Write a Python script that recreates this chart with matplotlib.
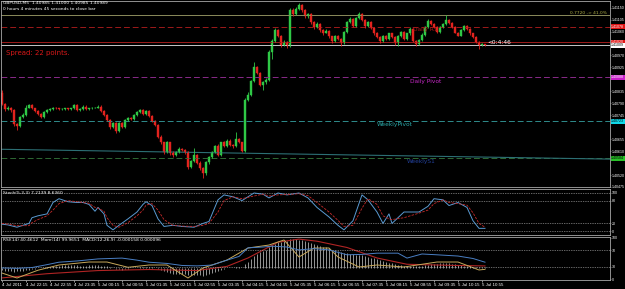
import numpy as np
import matplotlib
matplotlib.use("Agg")
import matplotlib.pyplot as plt

# GBPUSD M5 candles, points above 1.40000 (1 point = 0.00001)
opens = [829, 789, 767, 774, 763, 712, 705, 738, 745, 774,
         782, 771, 760, 749, 738, 756, 763, 767, 774, 771,
         767, 767, 771, 767, 771, 782, 763, 767, 778, 767,
         771, 774, 774, 778, 760, 745, 727, 701, 716, 687,
         716, 701, 727, 734, 731, 745, 756, 763, 749, 760,
         742, 723, 709, 665, 643, 606, 643, 602, 595, 606,
         617, 613, 606, 551, 573, 595, 566, 548, 526, 569,
         588, 606, 628, 595, 643, 628, 650, 632, 628, 654,
         643, 610, 804, 822, 873, 928, 903, 859, 870, 877,
         983, 1023, 1067, 1045, 1009, 1020, 1005, 1140, 1126, 1144,
         1159, 1140, 1118, 1126, 1096, 1078, 1089, 1067, 1056, 1064,
         1042, 1023, 1045, 1031, 1016, 1060, 1096, 1107, 1082, 1111,
         1126, 1104, 1082, 1096, 1075, 1056, 1038, 1023, 1045, 1031,
         1053, 1038, 1016, 1045, 1060, 1031, 1053, 1071, 1023, 1012,
         1027, 1049, 1078, 1100, 1089, 1078, 1060, 1078, 1089, 1104,
         1093, 1078, 1056, 1045, 1067, 1082, 1071, 1053, 1038, 1020,
         1009, 1012]
highs = [840, 793, 780, 778, 767, 716, 742, 752, 782, 789,
         786, 774, 763, 752, 760, 767, 771, 778, 778, 774,
         771, 774, 774, 774, 786, 786, 771, 782, 782, 774,
         778, 778, 782, 782, 763, 749, 731, 720, 720, 720,
         720, 731, 738, 738, 749, 760, 767, 767, 763, 763,
         745, 727, 712, 669, 646, 650, 646, 610, 610, 624,
         621, 617, 610, 577, 621, 599, 573, 551, 573, 591,
         610, 632, 635, 646, 650, 654, 654, 635, 683, 658,
         646, 811, 833, 877, 946, 932, 906, 873, 884, 990,
         1031, 1075, 1071, 1049, 1027, 1023, 1148, 1148, 1151, 1166,
         1162, 1144, 1130, 1130, 1100, 1096, 1093, 1071, 1071, 1067,
         1045, 1049, 1049, 1034, 1064, 1100, 1115, 1111, 1115, 1133,
         1130, 1107, 1100, 1100, 1078, 1060, 1042, 1049, 1049, 1056,
         1056, 1042, 1049, 1064, 1064, 1056, 1078, 1075, 1027, 1031,
         1053, 1082, 1107, 1104, 1093, 1082, 1082, 1093, 1122, 1107,
         1096, 1082, 1060, 1071, 1086, 1086, 1075, 1056, 1042, 1023,
         1016, 1012]
lows = [782, 760, 763, 756, 705, 690, 701, 734, 742, 771,
        767, 756, 745, 734, 734, 752, 760, 763, 767, 763,
        763, 763, 763, 763, 767, 760, 760, 763, 763, 763,
        767, 771, 771, 756, 742, 723, 694, 698, 680, 683,
        698, 698, 723, 727, 727, 742, 752, 745, 745, 738,
        720, 705, 658, 636, 599, 602, 595, 588, 591, 602,
        610, 599, 544, 548, 569, 562, 540, 507, 522, 562,
        584, 602, 591, 591, 624, 624, 628, 621, 624, 639,
        606, 606, 800, 818, 870, 899, 855, 840, 862, 873,
        957, 1020, 1038, 1001, 1005, 998, 1001, 1118, 1122, 1140,
        1133, 1111, 1111, 1089, 1071, 1075, 1060, 1049, 1053, 1034,
        1016, 1020, 1027, 1005, 1012, 1056, 1093, 1078, 1078, 1107,
        1100, 1075, 1078, 1071, 1049, 1034, 1016, 1020, 1027, 1027,
        1034, 1009, 1005, 1038, 1027, 1027, 1049, 1020, 1005, 1009,
        1023, 1045, 1075, 1086, 1075, 1056, 1056, 1075, 1086, 1089,
        1075, 1053, 1042, 1042, 1064, 1067, 1049, 1034, 1016, 994,
        1005, 1005]
closes = [789, 767, 774, 763, 712, 705, 738, 745, 774, 782,
          771, 760, 749, 738, 756, 763, 767, 774, 771, 767,
          767, 771, 767, 771, 782, 763, 767, 778, 767, 771,
          774, 774, 778, 760, 745, 727, 701, 716, 687, 716,
          701, 727, 734, 731, 745, 756, 763, 749, 760, 742,
          723, 709, 665, 643, 606, 643, 602, 595, 606, 617,
          613, 606, 551, 573, 595, 566, 548, 526, 569, 588,
          606, 628, 595, 643, 628, 650, 632, 628, 654, 643,
          610, 804, 822, 873, 928, 903, 859, 870, 877, 983,
          1023, 1067, 1045, 1009, 1020, 1005, 1140, 1126, 1144, 1159,
          1140, 1118, 1126, 1096, 1078, 1089, 1067, 1056, 1064, 1042,
          1023, 1045, 1031, 1016, 1060, 1096, 1107, 1082, 1111, 1126,
          1104, 1082, 1096, 1075, 1056, 1038, 1023, 1045, 1031, 1053,
          1038, 1016, 1045, 1060, 1031, 1053, 1071, 1023, 1012, 1027,
          1049, 1078, 1100, 1089, 1078, 1060, 1078, 1089, 1104, 1093,
          1078, 1056, 1045, 1067, 1082, 1071, 1053, 1038, 1020, 1009,
          1012, 1009]

# horizontal levels
fibo_level = 1.41122
daily_r1 = 1.41078
daily_high = 1.41020
bid = 1.41009
daily_pivot = 1.40888
weekly_pivot = 1.40723
weekly_s1 = 1.40584
trend_start, trend_end = 1.40617, 1.40580

price_ticks = [1.41150, 1.41105, 1.41060, 1.40970, 1.40925, 1.40835,
               1.40790, 1.40745, 1.40655, 1.40610, 1.40520, 1.40475]

# stochastic (5,3,3)
stoch_bars = [0, 2, 5, 9, 10, 12, 15, 17, 19, 22, 25, 27, 29, 31, 32, 34, 35, 37,
              39, 42, 45, 47, 48, 50, 52, 54, 57, 60, 64, 67, 69, 72, 74, 77, 80,
              84, 87, 89, 92, 95, 99, 102, 105, 109, 112, 114, 117, 120, 122, 125,
              127, 129, 130, 134, 139, 142, 144, 147, 149, 152, 155, 157, 159, 161]
stoch_main = [18, 16, 10, 20, 35, 40, 45, 75, 85, 77, 75, 75, 70, 52, 62, 45, 15, 3,
              15, 32, 50, 70, 77, 67, 32, 12, 15, 12, 10, 20, 25, 82, 95, 90, 80,
              100, 97, 87, 100, 95, 100, 87, 62, 37, 15, 3, 27, 95, 82, 50,
              20, 45, 20, 50, 50, 65, 85, 82, 67, 75, 62, 27, 7, 7]
stoch_signal = [20, 18, 14, 14, 22, 30, 40, 55, 72, 80, 77, 75, 73, 62, 60, 52, 35, 15,
                10, 22, 40, 55, 68, 72, 55, 30, 15, 13, 12, 15, 20, 50, 80, 90, 85,
                92, 97, 92, 95, 96, 98, 93, 75, 50, 28, 12, 15, 60, 85, 70,
                40, 32, 30, 35, 47, 55, 72, 82, 75, 72, 68, 48, 20, 10]

# RSI(14)
rsi_bars = [0, 5, 10, 15, 19, 25, 32, 36, 40, 45, 49, 55, 60, 65, 70, 75, 79, 82,
            87, 90, 95, 99, 104, 109, 115, 120, 125, 132, 135, 140, 145, 152, 157, 161]
rsi_vals = [27, 26, 28, 35, 41, 44, 49, 50, 51, 46, 41, 38, 33, 32, 34, 46, 55, 76,
            78, 80, 78, 71, 74, 71, 59, 60, 63, 63, 51, 61, 59, 56, 50, 41]

# Momentum(14)
mom_bars = [0, 5, 12, 19, 29, 35, 42, 49, 55, 62, 67, 75, 82, 89, 94, 99, 104,
            109, 112, 119, 125, 134, 145, 152, 159, 161]
mom_vals = [99.902, 99.817, 99.95, 100.039, 100.09, 100.09, 100.0, 100.039, 100.039,
            99.817, 99.988, 100.124, 100.329, 100.38, 100.466, 100.176, 100.329,
            100.329, 100.176, 100.005, 100.039, 100.005, 100.09, 100.09, 99.954, 99.965]

# MACD(12,26,9) histogram per bar and signal line, in 0.00001
macd_hist = [-8, -10, -12, -14, -15, -14, -12, -10, -8, -6, -4, -2, 0,
             2, 4, 6, 8, 10, 12, 14, 15, 16, 16, 16, 15, 15, 14, 14, 14, 15, 15, 16, 16, 14,
             12, 10, 6, 2, -2, -4, -5, -4, -2, 0, 2, 4, 6, 7, 8, 7, 5, 2,
             -2, -8, -14, -18, -22, -25, -27, -28, -28, -28, -30, -32, -32, -32, -33, -35, -32,
             -28, -24, -18, -12, -6, -2, 0, 2, 3, 5, 6, 4,
             20, 32, 45, 60, 70, 78, 84, 90, 100, 110, 118, 125, 128, 130, 132,
             140, 142, 140, 138, 135, 130, 125, 120, 115, 112, 108, 104, 100, 96, 90,
             86, 82, 78, 75, 72, 70, 68, 66, 64, 62, 60, 56, 52, 48, 44, 40, 36, 32, 28, 24, 20,
             18, 16, 14, 12, 12, 12, 12, 12, 13, 15, 18, 20, 22, 23, 24, 25, 25, 24, 22, 20,
             18, 16, 14, 12, 10, 9, 8, 7, 6, 5]
macd_sig_bars = [0, 15, 32, 49, 65, 75, 82, 92, 99, 105, 115, 125, 135, 149, 161]
macd_sig_vals = [-45, -25, -10, -5, -10, 10, 50, 125, 140, 130, 100, 50, 20, 15, 12]

time_bars = [0, 8, 16, 24, 32, 40, 48, 56, 64, 72, 80, 88, 96, 104, 112, 120, 128,
             136, 144, 152, 160]
time_labels = ["4 Jul 2011", "4 Jul 22:15", "4 Jul 22:55", "4 Jul 23:35", "5 Jul 00:15",
               "5 Jul 00:55", "5 Jul 01:35", "5 Jul 02:15", "5 Jul 02:55", "5 Jul 03:35",
               "5 Jul 04:15", "5 Jul 04:55", "5 Jul 05:35", "5 Jul 06:15", "5 Jul 06:55",
               "5 Jul 07:35", "5 Jul 08:15", "5 Jul 08:55", "5 Jul 09:35", "5 Jul 10:15",
               "5 Jul 10:55"]

GREEN = "#2fc846"
RED = "#e3231e"
FRAME = "#a8a8a8"
SMALL = 3.2
AXFONT = "Liberation Sans"
AXSIZE = 2.6

W, H = 625, 289
fig = plt.figure(figsize=(W / 100, H / 100), dpi=100, facecolor="black")
left, width = 1 / W, 609 / W
ax = fig.add_axes([left, 1 - 187 / H, width, 186.5 / H])
ax_st = fig.add_axes([left, 1 - 235 / H, width, 46 / H], sharex=ax)
ax_rsi = fig.add_axes([left, 1 - 280 / H, width, 43 / H], sharex=ax)

# extra scales for MACD and Momentum in the lower window
ax_macd = ax_rsi.twinx()
ax_macd.set_ylim(-0.00055, 0.0015)
ax_mom = ax_rsi.twinx()
ax_mom.set_ylim(99.783, 100.517)
for a in (ax_macd, ax_mom):
    a.axis("off")

for a in (ax, ax_st, ax_rsi):
    a.set_facecolor("black")
    for s in a.spines.values():
        s.set_color(FRAME)
        s.set_linewidth(0.6)
    a.yaxis.tick_right()
    a.tick_params(axis="y", colors=FRAME, labelcolor="white", labelsize=AXSIZE,
                  length=1, width=0.4, pad=0.6)
    a.tick_params(axis="x", bottom=False, labelbottom=False)

x = np.arange(len(closes))
o = 1.4 + np.array(opens) / 1e5
h = 1.4 + np.array(highs) / 1e5
l = 1.4 + np.array(lows) / 1e5
c = 1.4 + np.array(closes) / 1e5
cols = np.where(c >= o, GREEN, RED)

xmin, xmax = -0.33, -0.33 + 609 / 3
ax.set_xlim(xmin, xmax)
ax.set_ylim(1.40493, 1.41177)

# levels
ax.axhline(fibo_level, color="#8c8c5c", lw=0.7)
ax.axhline(daily_r1, color="#9e1a1a", lw=0.7, ls=(0, (6, 3)))
ax.axhline(daily_high, color="#9e1a1a", lw=0.7)
ax.axhline(bid, color="#c8c8c8", lw=0.7)
ax.axhline(daily_pivot, color="#8a2a8a", lw=0.7, ls=(0, (6, 3)))
ax.axhline(weekly_pivot, color="#2f8c8c", lw=0.7, ls=(0, (6, 3)))
ax.axhline(weekly_s1, color="#2e6a34", lw=0.7, ls=(0, (6, 3)))
ax.plot([xmin, xmax], [trend_start, trend_end], color="#2c6f74", lw=0.8)

# candles
ax.vlines(x, l, h, colors=cols, lw=0.6)
ax.bar(x, c - o, bottom=o, width=0.62, color=cols, edgecolor=cols, lw=0.3)

ax.set_yticks(price_ticks)
ax.set_yticklabels([f"{p:.5f}" for p in price_ticks])

yt = ax.get_yaxis_transform()
for lvl, fc, tc in [(daily_r1, "#e01414", "white"), (daily_high, "#e01414", "white"),
                    (bid, "white", "black"), (daily_pivot, "#c81ec8", "white"),
                    (weekly_pivot, "#10d8e8", "black"), (weekly_s1, "#28c028", "black")]:
    ax.text(1.002, lvl, f"{lvl:.5f}", transform=yt, fontsize=AXSIZE, family=AXFONT,
            color=tc, va="center", ha="left", clip_on=False,
            bbox=dict(boxstyle="square,pad=0.15", fc=fc, ec="none"))

ax.annotate("0.7720 -> 41.0%", (xmax, fibo_level), xytext=(-2, 0.3),
            textcoords="offset points", ha="right", va="bottom",
            fontsize=SMALL, color="#b0b048")
ax.annotate("Daily R1", (137, daily_r1), xytext=(0, -0.5), textcoords="offset points",
            ha="left", va="top", fontsize=4.2, color="#a81818")
ax.annotate("Daily Pivot", (136, daily_pivot), xytext=(0, -1), textcoords="offset points",
            ha="left", va="top", fontsize=4.2, color="#c828c8")
ax.annotate("WeeklyPivot", (125, weekly_pivot), xytext=(0, -0.5), textcoords="offset points",
            ha="left", va="top", fontsize=4.2, color="#2aa8a8")
ax.annotate("WeeklyS1", (135, weekly_s1), xytext=(0, -0.5), textcoords="offset points",
            ha="left", va="top", fontsize=4.2, color="#23409a")
ax.annotate("<0:4:46", (x[-1], bid), xytext=(1.5, 0.3), textcoords="offset points",
            ha="left", va="bottom", fontsize=4.2, color="white")

ax.text(0.004, 0.995, "GBPUSD,M5  1.40985 1.41000 1.40985 1.40989",
        transform=ax.transAxes, fontsize=SMALL, color="white", va="top")
ax.text(0.004, 0.965, "0 hours 4 minutes 45 seconds to close bar",
        transform=ax.transAxes, fontsize=SMALL, color="white", va="top")
ax.text(0.008, 1 - 53 / 187, "Spread: 22 points.", transform=ax.transAxes,
        fontsize=5, color="#d81818", va="center")

# stochastic panel
ax_st.set_ylim(-10.5, 110.5)
for lvl in (100, 80, 20, 0):
    ax_st.axhline(lvl, color="#c8c8c8", lw=0.5, ls=(0, (1, 1.5)))
ax_st.plot(stoch_bars, stoch_main, color="#5a9ad2", lw=0.7)
ax_st.plot(stoch_bars, stoch_signal, color="#c42a2a", lw=0.6, ls=(0, (3, 1.5)))
ax_st.set_yticks([100, 80, 20, 0])
ax_st.text(0.004, 0.96, "Stoch(5,3,3) 7.2139 8.6360", transform=ax_st.transAxes,
           fontsize=SMALL, color="white", va="top")

# RSI / Momentum / MACD panel
ax_rsi.set_ylim(-2.4, 102.4)
for lvl in (70, 30):
    ax_rsi.axhline(lvl, color="#c8c8c8", lw=0.5, ls=(0, (1, 1.5)))
ax_rsi.set_yticks([100, 70, 30, 0])

hist = np.array(macd_hist) / 1e5
ax_macd.vlines(x, 0, hist, colors="#d0d0d0", lw=0.5)
ax_macd.plot(macd_sig_bars, np.array(macd_sig_vals) / 1e5, color="#b02424", lw=0.8)
ax_mom.plot(mom_bars, mom_vals, color="#c8a85a", lw=0.7)
ax_rsi.plot(rsi_bars, rsi_vals, color="#4a7fc4", lw=0.7)
ax_rsi.set_zorder(ax_mom.get_zorder() + 1)
ax_rsi.patch.set_visible(False)
ax_macd.set_zorder(0)

ax_rsi.text(0.004, 0.97, "RSI(14) 40.4612  Mom(14) 99.9651  MACD(12,26,9) -0.000158 0.000096",
            transform=ax_rsi.transAxes, fontsize=SMALL, color="white", va="top")

ax_rsi.tick_params(axis="x", bottom=True, labelbottom=True, colors="white",
                   labelsize=SMALL, length=1.5, width=0.4, pad=0.8)
ax_rsi.set_xticks(time_bars)
ax_rsi.set_xticklabels(time_labels)
for lbl in ax_rsi.get_xticklabels():
    lbl.set_horizontalalignment("left")
    lbl.set_fontfamily(AXFONT)
ax_rsi.set_xlim(xmin, xmax)

for a in (ax, ax_st, ax_rsi):
    for lbl in a.get_yticklabels():
        lbl.set_fontfamily(AXFONT)

fig.savefig("out.png", dpi=100, facecolor="black")
